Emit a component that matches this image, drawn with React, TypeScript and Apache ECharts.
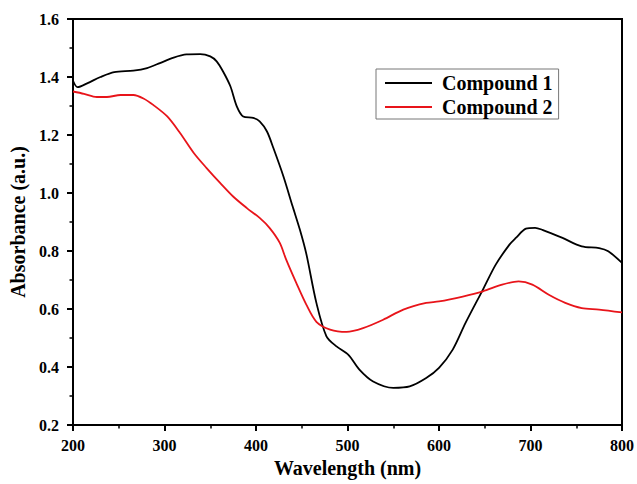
import React, { useEffect, useRef } from "react";
import * as echarts from "echarts";

const wavelength1 = [200, 205, 216, 230, 245, 266, 281, 295, 310, 324, 339, 350, 357, 364, 372, 379, 386, 397, 404, 412, 419, 430, 440, 448, 455, 466, 477, 488, 501, 513, 528, 550, 568, 586, 600, 615, 629, 648, 662, 677, 684, 695, 705, 713, 735, 756, 775, 785, 800];
const compound1 = [1.387, 1.365, 1.379, 1.4, 1.417, 1.422, 1.431, 1.448, 1.467, 1.478, 1.479, 1.471, 1.454, 1.419, 1.368, 1.299, 1.264, 1.259, 1.247, 1.212, 1.155, 1.057, 0.954, 0.873, 0.79, 0.621, 0.506, 0.471, 0.442, 0.391, 0.35, 0.328, 0.333, 0.362, 0.397, 0.46, 0.552, 0.667, 0.753, 0.822, 0.845, 0.877, 0.88, 0.873, 0.845, 0.816, 0.81, 0.799, 0.759];

const wavelength2 = [200, 212, 226, 237, 252, 266, 277, 288, 303, 317, 332, 346, 361, 375, 390, 404, 415, 426, 433, 444, 455, 466, 481, 499, 517, 539, 561, 586, 600, 626, 648, 669, 687, 702, 720, 738, 756, 775, 800];
const compound2 = [1.35, 1.342, 1.331, 1.331, 1.338, 1.338, 1.326, 1.303, 1.264, 1.207, 1.138, 1.086, 1.034, 0.988, 0.948, 0.914, 0.879, 0.828, 0.77, 0.69, 0.615, 0.556, 0.529, 0.521, 0.534, 0.563, 0.598, 0.621, 0.626, 0.643, 0.661, 0.684, 0.695, 0.684, 0.649, 0.621, 0.603, 0.598, 0.588];

const seriesNames = ["Compound 1", "Compound 2"];
const FONT = "'Liberation Serif', 'Times New Roman', serif";

export default function App() {
  const ref = useRef<HTMLDivElement>(null);
  useEffect(() => {
    if (!ref.current) return;
    const chart = echarts.init(ref.current, undefined, { renderer: "svg" });
    const axisCommon = {
      axisLine: { show: true, lineStyle: { color: "#000", width: 2 } },
      axisTick: { show: true, inside: false, length: 6, lineStyle: { color: "#000", width: 2 } },
      minorTick: { show: true, splitNumber: 2, length: 3.5, lineStyle: { color: "#000", width: 1.5 } },
      splitLine: { show: false },
      axisLabel: { color: "#000", fontFamily: FONT, fontWeight: "bold", fontSize: 16 },
      nameTextStyle: { color: "#000", fontFamily: FONT, fontWeight: "bold", fontSize: 20 },
    };
    chart.setOption({
      animation: false,
      backgroundColor: "#fff",
      grid: {
        left: 72,
        right: 13,
        top: 19,
        bottom: 59,
        show: true,
        borderColor: "#000",
        borderWidth: 2,
        backgroundColor: "transparent",
      },
      legend: {
        data: seriesNames,
        orient: "vertical",
        left: 376,
        top: 69,
        width: 182,
        icon: "rect",
        itemWidth: 47,
        itemHeight: 2,
        itemGap: 4,
        padding: [4, 6, 2, 9],
        borderColor: "#777",
        borderWidth: 1,
        textStyle: {
          color: "#000",
          fontFamily: FONT,
          fontWeight: "bold",
          fontSize: 20,
          padding: [0, 0, 0, 5],
        },
      },
      xAxis: {
        type: "value",
        min: 200,
        max: 800,
        interval: 100,
        name: "Wavelength (nm)",
        nameLocation: "middle",
        nameGap: 32,
        ...axisCommon,
        axisLabel: { ...axisCommon.axisLabel, margin: 12 },
      },
      yAxis: {
        type: "value",
        min: 0.2,
        max: 1.6,
        interval: 0.2,
        name: "Absorbance (a.u.)",
        nameLocation: "middle",
        nameGap: 45,
        ...axisCommon,
        axisLabel: {
          ...axisCommon.axisLabel,
          margin: 14,
          formatter: (v: number) => v.toFixed(1),
        },
      },
      series: [
        {
          name: seriesNames[0],
          type: "line",
          data: wavelength1.map((w, i) => [w, compound1[i]]),
          smooth: 0.3,
          showSymbol: false,
          symbol: "none",
          lineStyle: { color: "#000", width: 1.8 },
          itemStyle: { color: "#000" },
        },
        {
          name: seriesNames[1],
          type: "line",
          data: wavelength2.map((w, i) => [w, compound2[i]]),
          smooth: 0.3,
          showSymbol: false,
          symbol: "none",
          lineStyle: { color: "#e8141a", width: 1.8 },
          itemStyle: { color: "#e8141a" },
        },
      ],
    });
    return () => chart.dispose();
  }, []);
  return <div ref={ref} style={{ width: 637, height: 484, position: "absolute", left: 0, top: 0 }} />;
}
